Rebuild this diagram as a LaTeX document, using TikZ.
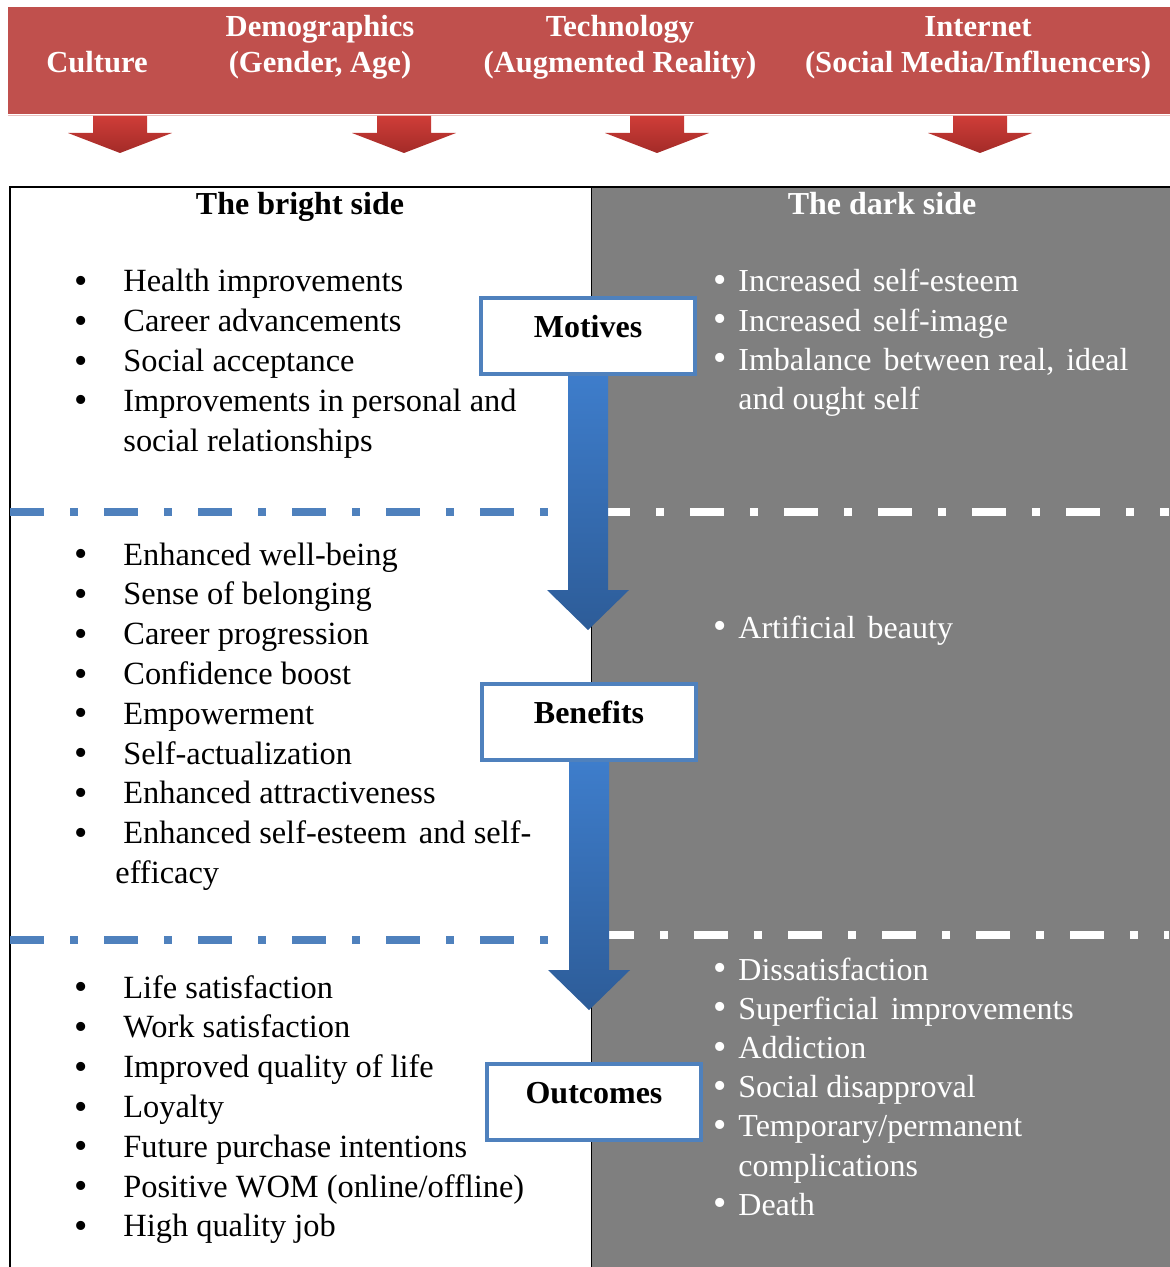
\documentclass[tikz,border=0pt]{standalone}
\usepackage{fontspec}
\setmainfont{Liberation Serif}
\definecolor{bannerred}{HTML}{C0504D}
\definecolor{sidegray}{HTML}{7F7F7F}
\definecolor{boxblue}{HTML}{4F81BD}
\definecolor{arrowtop}{HTML}{CF3D38}
\definecolor{arrowbot}{HTML}{A32B28}
\definecolor{shafttop}{HTML}{3E7DCB}
\definecolor{shaftbot}{HTML}{2D5C98}
\newcommand{\lbul}{\raisebox{-0.8pt}{\fontsize{19}{19}\selectfont\textbullet}}
\newcommand{\rbul}{\raisebox{-0.3pt}{\fontsize{19}{19}\selectfont\textbullet}}
\newcommand{\gap}{\hspace{2pt}}
\begin{document}
\begin{tikzpicture}[x=0.5pt,y=-0.5pt,
  hdr/.style={anchor=base,inner sep=0,text=white,font=\fontsize{15.3}{18}\selectfont\bfseries},
  side/.style={anchor=base,inner sep=0,font=\fontsize{16}{19.9}\selectfont\bfseries},
  stage/.style={draw=boxblue,line width=2pt,fill=white,minimum width=107pt,minimum height=38pt,
    inner sep=0,text height=10.5pt,text depth=9.5pt,font=\fontsize{16}{19.9}\selectfont\bfseries},
  blist/.style={anchor=base west,inner sep=0,font=\fontsize{16.2}{19.9}\selectfont},
  wlist/.style={anchor=base west,inner sep=0,text=white,font=\fontsize{16}{19.6}\selectfont},
  sep/.style={line width=4pt,dash pattern=on 17pt off 13pt on 4pt off 13pt},
  redarrow/.style={top color=arrowtop,bottom color=arrowbot},
  bluearrow/.style={top color=shafttop,bottom color=shaftbot}]
\useasboundingbox (0,0) rectangle (1169,1267);
% banner with the four drivers
\fill[bannerred] (8,7) rectangle (1180,114);
\draw[bannerred!35,line width=0.6pt] (8,115.5) -- (1180,115.5);
\node[hdr] (cult) at (97,73) {Culture};
\node[hdr] (demo) at (320,37) {\begin{tabular}[t]{@{}c@{}}Demographics\\(Gender, Age)\end{tabular}};
\node[hdr] (tech) at (620,37) {\begin{tabular}[t]{@{}c@{}}Technology\\(Augmented Reality)\end{tabular}};
\node[hdr] (inet) at (978,37) {\begin{tabular}[t]{@{}c@{}}Internet\\(Social Media/Influencers)\end{tabular}};
\foreach \ax in {120,404,657,980}
  \shade[redarrow] (\ax-27,116) -- (\ax+27,116) -- (\ax+27,133) -- (\ax+52,133) -- (\ax,153) -- (\ax-52,133) -- (\ax-27,133) -- cycle;
% bright / dark panel
\fill[sidegray] (591,187) rectangle (1180,1280);
\draw[line width=0.7pt] (10,1280) -- (10,187) -- (1180,187);
\draw[line width=0.5pt] (591,187) -- (591,1280);
\node[side] (bright) at (300,215) {The bright side};
\node[side,text=white] (dark) at (882,215) {The dark side};
% separators
\draw[sep,boxblue] (10,512) -- (549,512);
\draw[sep,white] (596,512) -- (1169,512);
\draw[sep,boxblue] (10,940) -- (549,940);
\draw[sep,white] (600,935) -- (1169,935);
% stages
\node[stage] (mot) at (588,336) {Motives};
\node[stage] (ben) at (589,722) {Benefits};
\node[stage] (outc) at (594,1102) {Outcomes};
\coordinate (tipA) at (588,630);
\coordinate (tipB) at (589,1010);
\shade[bluearrow] (mot.south) ++(-20,0) -- ++(40,0) -- ++(0,214) -- ++(21,0) -- (tipA) -- ++(-41,-40) -- ++(21,0) -- cycle;
\shade[bluearrow] (ben.south) ++(-20,0) -- ++(40,0) -- ++(0,208) -- ++(21,0) -- (tipB) -- ++(-41,-40) -- ++(21,0) -- cycle;
% bright side lists
\node[blist] (motL) at (74,292) {\begin{tabular}[t]{@{}p{24.5pt}@{}l@{}}
\lbul & Health improvements\\
\lbul & Career advancements\\
\lbul & Social acceptance\\
\lbul & Improvements in personal and\\
 & social relationships
\end{tabular}};
\node[blist] (benL) at (74,565) {\begin{tabular}[t]{@{}p{24.5pt}@{}l@{}}
\lbul & Enhanced well-being\\
\lbul & Sense of belonging\\
\lbul & Career progression\\
\lbul & Confidence boost\\
\lbul & Empowerment\\
\lbul & Self-actualization\\
\lbul & Enhanced attractiveness\\
\lbul & Enhanced self-esteem\gap{} and self-\\
 & \hspace{-4pt}efficacy
\end{tabular}};
\node[blist] (outL) at (74,998) {\begin{tabular}[t]{@{}p{24.5pt}@{}l@{}}
\lbul & Life satisfaction\\
\lbul & Work satisfaction\\
\lbul & Improved quality of life\\
\lbul & Loyalty\\
\lbul & Future purchase intentions\\
\lbul & Positive WOM (online/offline)\\
\lbul & High quality job
\end{tabular}};
% dark side lists
\node[wlist] (motR) at (713,292) {\begin{tabular}[t]{@{}p{12.5pt}@{}l@{}}
\rbul & Increased\gap{} self-esteem\\
\rbul & Increased\gap{} self-image\\
\rbul & Imbalance\gap{} between real,\gap{} ideal\\
 & and ought self
\end{tabular}};
\node[wlist] (benR) at (713,638) {\begin{tabular}[t]{@{}p{12.5pt}@{}l@{}}
\rbul & Artificial\gap{} beauty
\end{tabular}};
\node[wlist] (outR) at (713,980) {\begin{tabular}[t]{@{}p{12.5pt}@{}l@{}}
\rbul & Dissatisfaction\\
\rbul & Superficial\gap{} improvements\\
\rbul & Addiction\\
\rbul & Social disapproval\\
\rbul & Temporary/permanent\\
 & complications\\
\rbul & Death
\end{tabular}};
\end{tikzpicture}
\end{document}
